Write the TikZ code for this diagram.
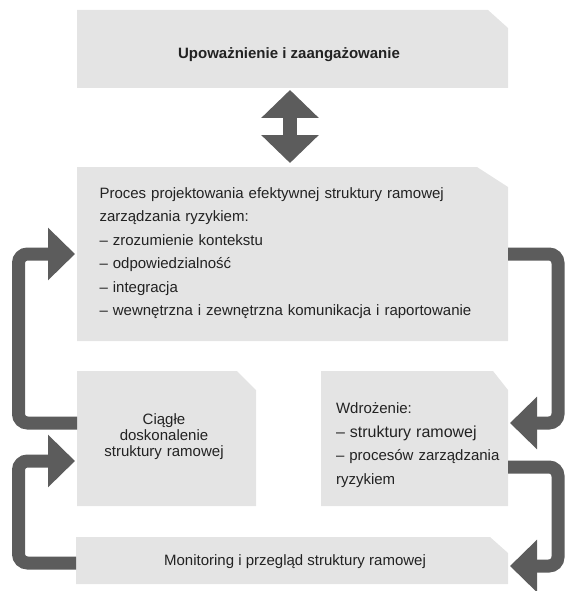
\documentclass[tikz,border=0pt]{standalone}
\usepackage{fontspec}
\setmainfont{Liberation Sans}
\usetikzlibrary{arrows.meta}
\definecolor{panelgray}{HTML}{E4E4E4}
\definecolor{flowgray}{HTML}{5C5C5C}
\definecolor{inkgray}{HTML}{222222}
\begin{document}
\begin{tikzpicture}[x=1pt,y=-1pt,
  % light grey panel with the top-right corner cut off (#1 across, #2 down)
  panel/.style 2 args={inner sep=0pt, outer sep=0pt, anchor=north west,
    path picture={\fill[panelgray]
      (path picture bounding box.south west) -- (path picture bounding box.south east)
      -- ([yshift=-#2]path picture bounding box.north east)
      -- ([xshift=-#1]path picture bounding box.north east)
      -- (path picture bounding box.north west) -- cycle;}},
  caption/.style={inner sep=0pt, outer sep=0pt, text=inkgray,
    font=\fontsize{15}{23.5}\selectfont},
  loopline/.style={draw=flowgray, line width=13pt, rounded corners=9pt,
    -{Triangle[length=27pt,width=51pt]}, shorten >=2pt},
  twoway/.style={draw=flowgray, line width=14pt,
    {Triangle[length=28pt,width=56pt]}-{Triangle[length=28pt,width=56pt]}},
]
\useasboundingbox (0,0) rectangle (566,591);

% panels
\node[panel={20pt}{18pt}, minimum width=431pt, minimum height=78pt]  (top)  at (77,10)  {};
\node[panel={31pt}{20pt}, minimum width=431pt, minimum height=174pt] (mid)  at (77,167) {};
\node[panel={19pt}{19pt}, minimum width=179pt, minimum height=135pt] (ciag) at (77,371) {};
\node[panel={15pt}{19pt}, minimum width=187pt, minimum height=135pt] (wd)   at (321,371) {};
\node[panel={18pt}{16pt}, minimum width=432pt, minimum height=47pt]  (mon)  at (76,537) {};

% lanes and attachment points of the loop arrows
\coordinate (rlane) at (558,0);
\coordinate (llane) at (18.5,0);
\coordinate (wdin)    at ([yshift=15.5pt]wd.east);
\coordinate (wdout)   at ([yshift=-28.5pt]wd.east);
\coordinate (monin)   at ([yshift=-5.5pt]mon.east);
\coordinate (monout)  at ([yshift=-2.5pt]mon.west);
\coordinate (ciagin)  at ([yshift=-22.5pt]ciag.west);
\coordinate (ciagout) at ([yshift=15.5pt]ciag.west);

% arrows
\draw[twoway, shorten <=2pt, shorten >=4pt] ([xshift=-2.5pt]top.south) -- ([xshift=-2.5pt]mid.north);
\draw[loopline] (mid.east) -- (mid.east -| rlane) -- (rlane |- wdin) -- (wdin);
\draw[loopline] (wdout) -- (wdout -| rlane) -- (rlane |- monin) -- (monin);
\draw[loopline] (monout) -- (monout -| llane) -- (llane |- ciagin) -- (ciagin);
\draw[loopline] (ciagout) -- (ciagout -| llane) -- (llane |- mid.west) -- (mid.west);

% texts
\node[caption, font=\fontsize{15}{18}\selectfont\bfseries, anchor=base] (toptxt) at (289,59)
  {Upoważnienie i zaangażowanie};
\node[caption, anchor=base west, text width=420pt, align=left] (midtxt) at (99.5,198)
  {Proces projektowania efektywnej struktury ramowej\\
   zarządzania ryzykiem:\\
   – zrozumienie kontekstu\\
   – odpowiedzialność\\
   – integracja\\
   – wewnętrzna i zewnętrzna komunikacja i raportowanie};
\node[caption, anchor=base, text width=160pt, align=center,
      font=\fontsize{15}{16}\selectfont] (ciagtxt) at (164,424)
  {Ciągłe\\ doskonalenie\\ struktury ramowej};
\node[caption, anchor=base west, text width=170pt, align=left] (wdtxt) at (336,413.5)
  {Wdrożenie:\\
   {\fontsize{16}{23.5}\selectfont – struktury ramowej}\\
   – procesów zarządzania\\
   ryzykiem};
\node[caption, anchor=base] (montxt) at (295,565)
  {Monitoring i przegląd struktury ramowej};
\end{tikzpicture}
\end{document}
